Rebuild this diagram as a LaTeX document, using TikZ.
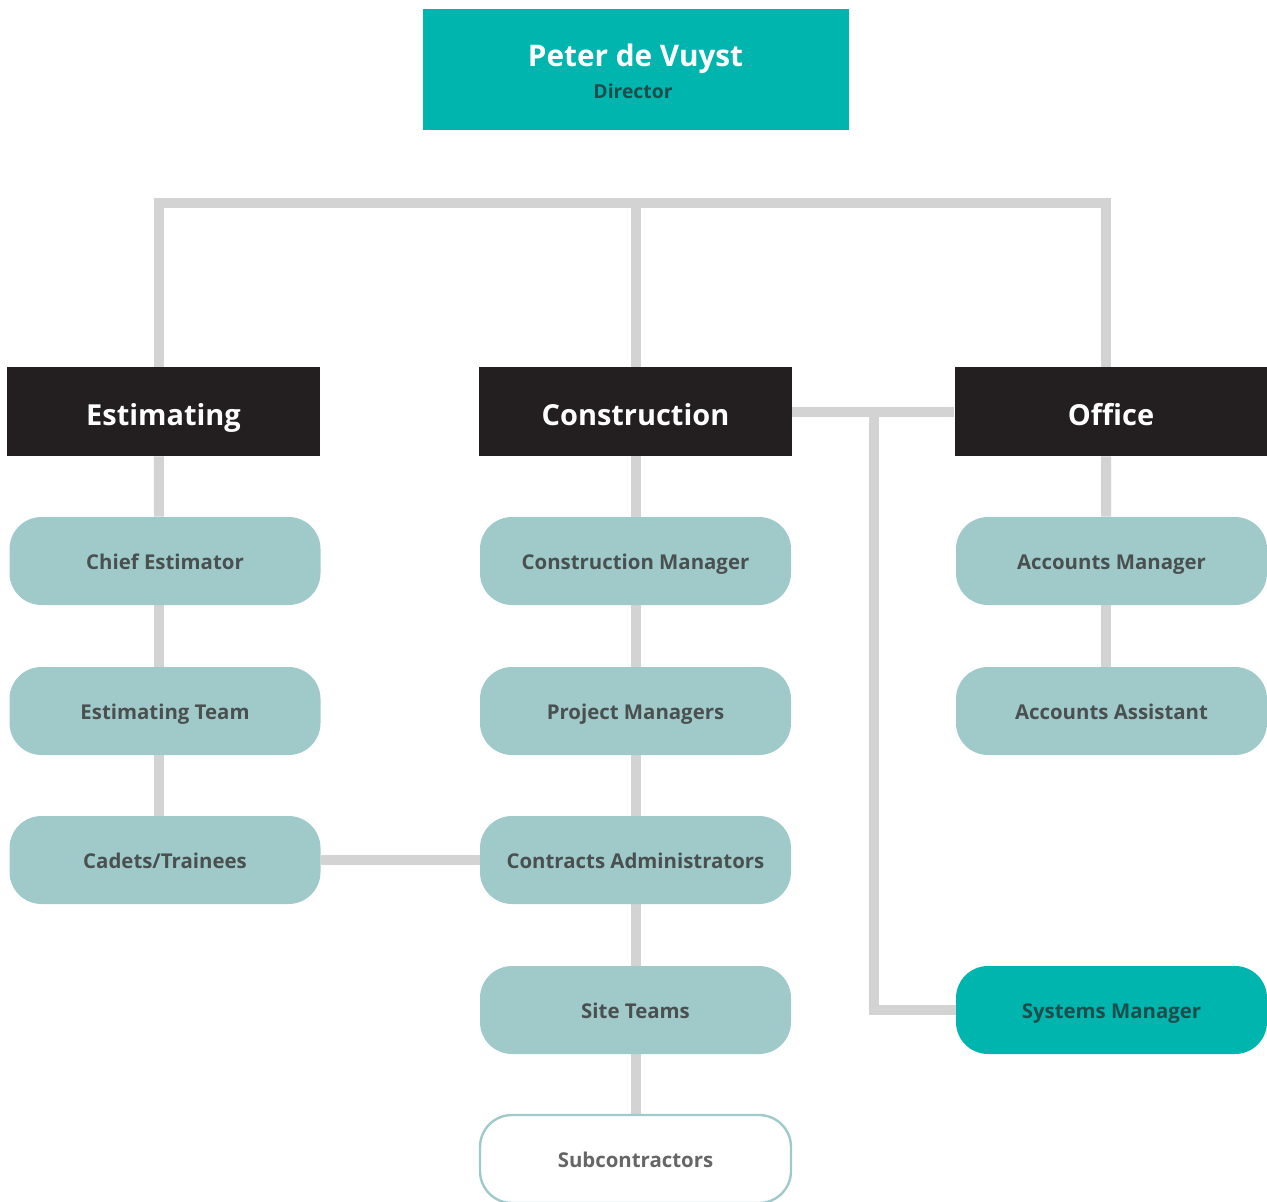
\documentclass[tikz,border=0pt]{standalone}
\usepackage{fontspec}
\setmainfont{Open Sans}
\newfontfamily\headfont{Open Sans}
\usetikzlibrary{backgrounds}
\definecolor{teal1}{HTML}{00B5AD}
\definecolor{lightteal}{HTML}{A0CACA}
\definecolor{darkhead}{HTML}{231F20}
\definecolor{linegray}{HTML}{D3D3D3}
\definecolor{boxtext}{HTML}{4A5050}
\definecolor{darkteal}{HTML}{1E4D4D}
\definecolor{subtext}{HTML}{666666}
\tikzset{
  px/.style={x=0.75pt,y=-0.75pt},
  conn/.style={draw=linegray,line width=7.5pt},
  headbox/.style={fill=darkhead,text=white,minimum width=234.75pt,minimum height=66.75pt,inner sep=0pt,text height=21.5pt,text depth=0pt,font=\headfont\fontsize{21.7}{24}\selectfont\bfseries},
  rolebox/.style={fill=lightteal,text=boxtext,rounded corners=24pt,minimum width=233.25pt,minimum height=66pt,inner sep=0pt,text height=12.9pt,text depth=0pt,font=\fontsize{15.3}{17}\selectfont\bfseries},
  sysbox/.style={rolebox,fill=teal1,text=darkteal},
  subbox/.style={rolebox,fill=white,draw=lightteal,line width=1.8pt,text=subtext},
}
\begin{document}
\begin{tikzpicture}[px]
\useasboundingbox (0,0) rectangle (1267,1202);
% director
\node[fill=teal1,minimum width=319.5pt,minimum height=90.75pt,inner sep=0pt] (dir) at (636,69.5) {};
\node[text=white,inner sep=0pt,text height=15.9pt,text depth=0pt,font=\headfont\fontsize{22.3}{26}\selectfont\bfseries] (dirname) at (635.5,56) {Peter de Vuyst};
\node[text=darkteal,inner sep=0pt,text height=10.35pt,text depth=0pt,font=\fontsize{14.5}{17}\selectfont\bfseries] (dirrole) at (633,91.5) {Director};
% departments
\node[headbox] (est) at (163.5,411.5) {Estimating};
\node[headbox] (con) at (635.5,411.5) {Construction};
\node[headbox] (off) at (1111,411.5) {Office};
% estimating column
\node[rolebox] (chief) at (165,561) {Chief Estimator};
\node[rolebox] (estteam) at (165,711) {Estimating Team};
\node[rolebox] (cadets) at (165,860) {Cadets/Trainees};
% construction column
\node[rolebox] (conman) at (635.5,561) {Construction Manager};
\node[rolebox] (projman) at (635.5,711) {Project Managers};
\node[rolebox] (contract) at (635.5,860) {Contracts Administrators};
\node[rolebox] (site) at (635.5,1010) {Site Teams};
\node[subbox] (subc) at (635.5,1159) {Subcontractors};
% office column
\node[rolebox] (accman) at (1111.5,561) {Accounts Manager};
\node[rolebox] (accass) at (1111.5,711) {Accounts Assistant};
\node[sysbox] (sys) at (1111.5,1010) {Systems Manager};
% connectors
\coordinate (busC) at (635.5,203);
\coordinate (junc) at (874,411.5);
\begin{scope}[on background layer]
\draw[conn] ([xshift=-3.4pt]est.north) |- (busC) -| ([xshift=-3.75pt]off.north);
\draw[conn] (busC) -- (con.north);
\draw[conn] ([xshift=-3.4pt]est.south) -- ([xshift=-4.5pt]chief.north);
\draw[conn] ([xshift=-4.5pt]chief.south) -- ([xshift=-4.5pt]estteam.north);
\draw[conn] ([xshift=-4.5pt]estteam.south) -- ([xshift=-4.5pt]cadets.north);
\draw[conn] (cadets) -- (contract);
\draw[conn] (con.south) -- (conman.north);
\draw[conn] (conman.south) -- (projman.north);
\draw[conn] (projman.south) -- (contract.north);
\draw[conn] (contract.south) -- (site.north);
\draw[conn] (site.south) -- (subc.north);
\draw[conn] (con) -- (off);
\draw[conn] (junc) |- (sys);
\draw[conn] ([xshift=-3.75pt]off.south) -- ([xshift=-4.1pt]accman.north);
\draw[conn] ([xshift=-4.1pt]accman.south) -- ([xshift=-4.1pt]accass.north);
\end{scope}
\end{tikzpicture}
\end{document}
